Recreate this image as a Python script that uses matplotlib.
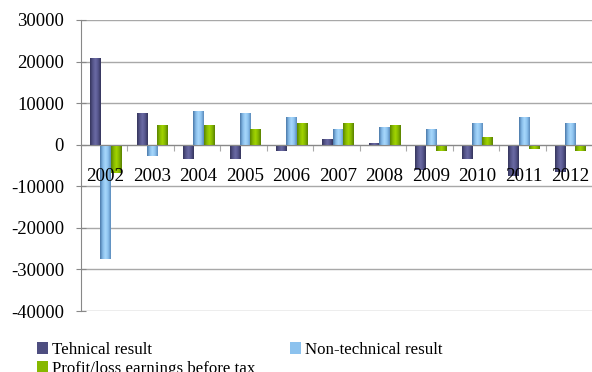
import numpy as np
import matplotlib
matplotlib.use("Agg")
import matplotlib.pyplot as plt
from matplotlib.colors import LinearSegmentedColormap
from matplotlib.patches import Patch
from matplotlib.transforms import offset_copy

plt.rcParams['font.family'] = ['Liberation Serif', 'DejaVu Serif']

years = ['2002', '2003', '2004', '2005', '2006', '2007', '2008', '2009', '2010', '2011', '2012']
technical = [20900, 7700, -3500, -3500, -1600, 1400, 400, -6000, -3500, -7500, -6500]
non_technical = [-27600, -2600, 8200, 7700, 6700, 3800, 4300, 3800, 5300, 6700, 5300]
profit_before_tax = [-6800, 4800, 4800, 3800, 5300, 5300, 4800, -1600, 1900, -1100, -1600]
series_names = ['Tehnical result', 'Non-technical result', 'Profit/loss earnings before tax']
y_ticks = [30000, 20000, 10000, 0, -10000, -20000, -30000, -40000]

cmaps = [
    LinearSegmentedColormap.from_list('tech', ['#35355c', '#55558a', '#6a6aa4', '#55558c', '#34345a']),
    LinearSegmentedColormap.from_list('nontech', ['#4a78a8', '#86bbe8', '#a8d8fc', '#8cc2ee', '#5a8abb']),
    LinearSegmentedColormap.from_list('profit', ['#5a8400', '#86b800', '#a2d400', '#84b600', '#587f00']),
]
legend_colors = ['#4e4e80', '#8cc2ee', '#86b800']

fig = plt.figure(figsize=(5.92, 3.72), dpi=100)
ax = fig.add_axes([81 / 592, 1 - 311 / 372, 511 / 592, 291 / 372])

x = np.arange(len(years))
width = 0.222
shift = 0.03
grad = np.linspace(0, 1, 64).reshape(1, -1)
for k, vals in enumerate([technical, non_technical, profit_before_tax]):
    bars = ax.bar(x + shift + (k - 1) * width, vals, width, facecolor='none',
                  edgecolor='none', zorder=3)
    for b in bars:
        x0, y0 = b.get_x(), b.get_y()
        im = ax.imshow(grad, cmap=cmaps[k], origin='lower', aspect='auto',
                       interpolation='bilinear', zorder=3,
                       extent=(x0, x0 + b.get_width(), y0, y0 + b.get_height()))
        im.set_clip_path(b)

ax.set_xlim(-0.5, len(years) - 0.5)
ax.set_ylim(-40000, 30000)

# axes styling
for s in ['top', 'right']:
    ax.spines[s].set_visible(False)
ax.spines['left'].set_color('#888888')
ax.spines['bottom'].set_position(('data', 0))
ax.spines['bottom'].set_color('#888888')
ax.spines['bottom'].set_zorder(4)

ax.set_yticks(y_ticks)
ax.set_yticklabels([str(v) for v in y_ticks])
ax.tick_params(axis='y', direction='inout', length=6.5, width=0.8, color='#888888',
               labelsize=13.4, pad=9)
ax.yaxis.grid(True, color='#a8a8a8', linewidth=1.0, zorder=0)
ax.set_axisbelow(True)

ax.set_xticks([])
ax.set_xticks(x[:-1] + 0.5, minor=True)
ax.tick_params(axis='x', which='minor', direction='out', length=4.5, width=0.8,
               color='#aaaaaa', labelbottom=False)

# year labels below the zero line
lab_tr = offset_copy(ax.transData, fig=fig, x=0, y=-32, units='dots')
for xi, yr in zip(x, years):
    ax.text(xi + shift, 0, yr, transform=lab_tr, ha='center', va='center',
            fontsize=13.7, zorder=6)

handles = [Patch(facecolor=legend_colors[i], edgecolor='none') for i in range(3)]
order = [0, 2, 1]
leg = fig.legend([handles[i] for i in order], [series_names[i] for i in order],
                 ncol=2, loc='upper left', bbox_to_anchor=(37 / 592, 1 - 342 / 372),
                 frameon=False, fontsize=12.2, handlelength=0.65, handleheight=0.65,
                 handletextpad=0.25, columnspacing=2.0, labelspacing=0.15,
                 borderaxespad=0, borderpad=0)

fig.savefig('out.png', dpi=100, facecolor='white')
